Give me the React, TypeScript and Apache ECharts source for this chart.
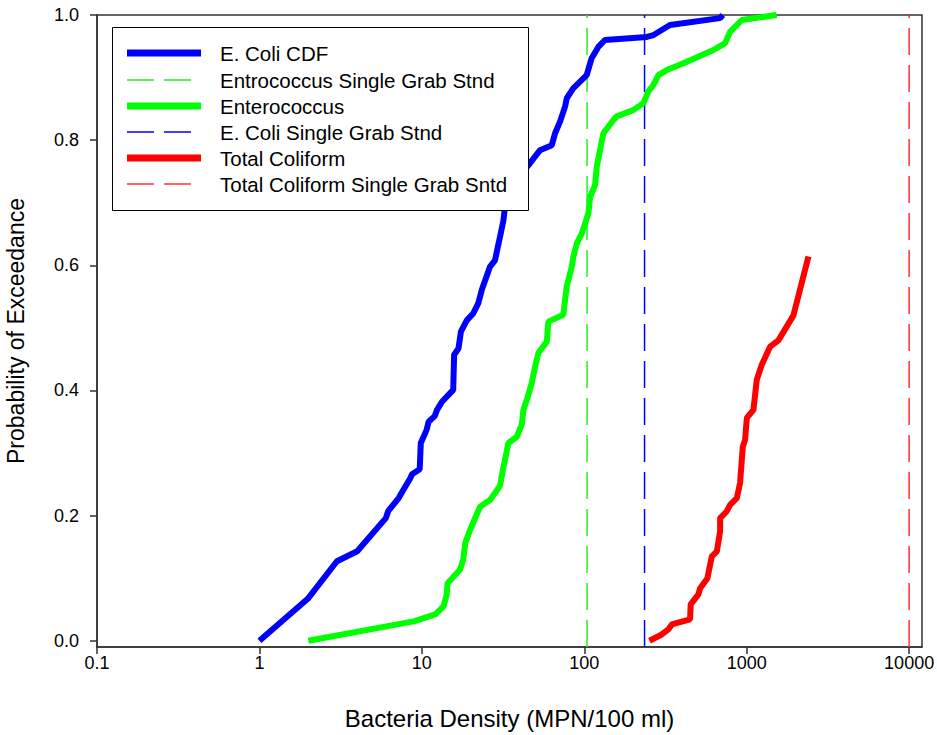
import React, { useEffect, useRef } from 'react';
import * as echarts from 'echarts';

const X_TICKS = [0.1, 1, 10, 100, 1000, 10000];
const Y_TICKS = [0, 0.2, 0.4, 0.6, 0.8, 1.0];

const SERIES_NAMES = [
  'E. Coli CDF',
  'Entrococcus Single Grab Stnd',
  'Enterococcus',
  'E. Coli Single Grab Stnd',
  'Total Coliform',
  'Total Coliform Single Grab Sntd',
];

// Standards (MPN/100 ml)
const ENTERO_STD = 104;
const ECOLI_STD = 235;
const TC_STD = 10000;
const STD_P_RANGE = [-0.01, 1];

// [density, probability]
const ECOLI_CDF: [number, number][] = [
  [1, 0], [2, 0.068], [3, 0.127], [4, 0.143], [6, 0.196], [6.2, 0.207], [7.2, 0.228],
  [7.5, 0.236], [8.5, 0.26], [8.7, 0.266], [9.7, 0.274], [9.85, 0.316], [10.7, 0.337],
  [11, 0.35], [12, 0.359], [12.4, 0.369], [13.3, 0.382], [15.6, 0.401], [15.8, 0.457],
  [16.8, 0.467], [17.4, 0.494], [18.9, 0.512], [20.7, 0.523], [22.3, 0.54], [23.4, 0.561],
  [26.3, 0.598], [28.2, 0.608], [30.3, 0.646], [31.8, 0.672], [32.5, 0.694], [36, 0.73],
  [45.3, 0.76], [53.4, 0.784], [63.1, 0.792], [66.1, 0.811], [71, 0.83], [76.2, 0.854],
  [78, 0.867], [85.7, 0.883], [103.5, 0.904], [111, 0.931], [122, 0.949], [134, 0.96],
  [243, 0.965], [267, 0.968], [337, 0.984], [686, 0.995], [713, 1.0],
];

const ENTEROCOCCUS: [number, number][] = [
  [2, 0], [8.9, 0.031], [12.1, 0.042], [13.6, 0.055], [14.2, 0.073], [14.4, 0.092],
  [17.2, 0.114], [18, 0.13], [18.5, 0.156], [19.8, 0.177], [22.8, 0.214], [26.3, 0.225],
  [28.9, 0.24], [30.3, 0.248], [31.5, 0.272], [34.1, 0.316], [38.4, 0.326], [41.2, 0.345],
  [42.2, 0.369], [44.3, 0.385], [47.5, 0.412], [49.8, 0.438], [52.2, 0.46], [58.8, 0.478],
  [60.1, 0.51], [74.3, 0.521], [76.2, 0.545], [78, 0.566], [83.8, 0.598], [85.7, 0.614],
  [90, 0.635], [96.6, 0.651], [106, 0.683], [108.6, 0.709], [116.5, 0.728], [119.4, 0.758],
  [125, 0.784], [131, 0.811], [151, 0.832], [158.5, 0.838], [200, 0.848], [231, 0.859],
  [248, 0.878], [266, 0.888], [286, 0.904], [322, 0.912], [408, 0.923], [624, 0.944],
  [736, 0.955], [790, 0.973], [933, 0.992], [1530, 1.0],
];

const TOTAL_COLIFORM: [number, number][] = [
  [252, 0], [300, 0.01], [329, 0.018], [346, 0.026], [448, 0.034], [452, 0.058],
  [504, 0.074], [517, 0.084], [573, 0.1], [610, 0.135], [655, 0.143], [686, 0.175],
  [686, 0.196], [754, 0.207], [790, 0.217], [869, 0.228], [910, 0.252], [946, 0.31],
  [977, 0.321], [1002, 0.356], [1100, 0.369], [1153, 0.417], [1238, 0.441], [1393, 0.47],
  [1567, 0.48], [1940, 0.52], [2400, 0.614],
];

const BLUE = '#0000ff';
const GREEN = '#00ff00';
const RED = '#ff0000';
const GREEN_DASH = '#22ee22';
const BLUE_DASH = '#0000ff';
const RED_DASH = '#ff3030';
const FONT = '"Liberation Sans", Arial, Helvetica, sans-serif';
const DASH = [27, 10];

export default function App() {
  const ref = useRef<HTMLDivElement>(null);

  useEffect(() => {
    if (!ref.current) return;
    const chart = echarts.init(ref.current, undefined, { renderer: 'svg' });

    const stdLine = (v: number) => STD_P_RANGE.map((p) => [v, p]);

    const legendItems = [
      { name: SERIES_NAMES[0], color: BLUE, width: 7, dash: null as number[] | null },
      { name: SERIES_NAMES[1], color: GREEN_DASH, width: 1.5, dash: DASH },
      { name: SERIES_NAMES[2], color: GREEN, width: 7, dash: null },
      { name: SERIES_NAMES[3], color: BLUE_DASH, width: 1.5, dash: DASH },
      { name: SERIES_NAMES[4], color: RED, width: 7, dash: null },
      { name: SERIES_NAMES[5], color: RED_DASH, width: 1.5, dash: DASH },
    ];
    const rowY = [53, 80, 106, 132, 158, 184];
    const graphic: any[] = [
      {
        type: 'rect',
        z: 100,
        shape: { x: 112.5, y: 27.5, width: 416, height: 183 },
        style: { fill: '#fff', stroke: '#000', lineWidth: 1 },
      },
    ];
    legendItems.forEach((it, i) => {
      graphic.push({
        type: 'line',
        z: 101,
        shape: { x1: 127, y1: rowY[i], x2: 201, y2: rowY[i] },
        style: { stroke: it.color, lineWidth: it.width, lineDash: it.dash || undefined },
      });
      graphic.push({
        type: 'text',
        z: 101,
        x: 220,
        y: rowY[i],
        style: {
          text: it.name,
          fill: '#000',
          fontSize: 20.5,
          fontFamily: FONT,
          verticalAlign: 'middle',
          align: 'left',
        },
      });
    });

    const option: any = {
      animation: false,
      backgroundColor: '#fff',
      grid: {
        left: 97,
        right: 15,
        top: 15,
        bottom: 88,
        show: true,
        borderColor: '#333',
        borderWidth: 1.5,
        backgroundColor: 'transparent',
        containLabel: false,
        outerBoundsMode: 'none',
      },
      xAxis: {
        type: 'log',
        logBase: 10,
        min: 0.1,
        max: 12000,
        name: 'Bacteria Density (MPN/100 ml)',
        nameLocation: 'middle',
        nameGap: 59,
        nameTextStyle: { fontSize: 24, color: '#000', fontFamily: FONT },
        axisLine: { show: true, onZero: false, lineStyle: { color: '#333', width: 1.5 } },
        axisTick: { show: true, length: 7, customValues: X_TICKS, lineStyle: { color: '#333', width: 1.5 } },
        axisLabel: {
          customValues: X_TICKS,
          formatter: (v: number) => String(v),
          fontSize: 18,
          color: '#000',
          margin: 7,
          fontFamily: FONT,
        },
        splitLine: { show: false },
        minorTick: { show: false },
      },
      yAxis: {
        type: 'value',
        min: -0.01,
        max: 1,
        name: 'Probability of Exceedance',
        nameLocation: 'middle',
        nameGap: 70,
        nameTextStyle: { fontSize: 23, color: '#000', fontFamily: FONT },
        axisLine: { show: true, onZero: false, lineStyle: { color: '#333', width: 1.5 } },
        axisTick: { show: true, length: 7, customValues: Y_TICKS, lineStyle: { color: '#333', width: 1.5 } },
        axisLabel: {
          customValues: Y_TICKS,
          formatter: (v: number) => v.toFixed(1),
          fontSize: 18,
          color: '#000',
          margin: 18,
          fontFamily: FONT,
        },
        splitLine: { show: false },
      },
      series: [
        {
          name: SERIES_NAMES[1],
          type: 'line',
          symbol: 'none',
          z: 2,
          data: stdLine(ENTERO_STD),
          lineStyle: { color: GREEN_DASH, width: 1.5, type: DASH },
          itemStyle: { color: GREEN_DASH },
        },
        {
          name: SERIES_NAMES[3],
          type: 'line',
          symbol: 'none',
          z: 2,
          data: stdLine(ECOLI_STD),
          lineStyle: { color: BLUE_DASH, width: 1.5, type: DASH },
          itemStyle: { color: BLUE_DASH },
        },
        {
          name: SERIES_NAMES[5],
          type: 'line',
          symbol: 'none',
          z: 2,
          data: stdLine(TC_STD),
          lineStyle: { color: RED_DASH, width: 1.5, type: DASH },
          itemStyle: { color: RED_DASH },
        },
        {
          name: SERIES_NAMES[0],
          type: 'line',
          symbol: 'none',
          z: 3,
          data: ECOLI_CDF,
          lineStyle: { color: BLUE, width: 6 },
          itemStyle: { color: BLUE },
        },
        {
          name: SERIES_NAMES[2],
          type: 'line',
          symbol: 'none',
          z: 3,
          data: ENTEROCOCCUS,
          lineStyle: { color: GREEN, width: 6 },
          itemStyle: { color: GREEN },
        },
        {
          name: SERIES_NAMES[4],
          type: 'line',
          symbol: 'none',
          z: 3,
          data: TOTAL_COLIFORM,
          lineStyle: { color: RED, width: 6 },
          itemStyle: { color: RED },
        },
      ],
      graphic,
    };

    chart.setOption(option);
    return () => chart.dispose();
  }, []);

  return (
    <div
      ref={ref}
      style={{ position: 'fixed', left: 0, top: 0, width: 937, height: 735, background: '#fff' }}
    />
  );
}
